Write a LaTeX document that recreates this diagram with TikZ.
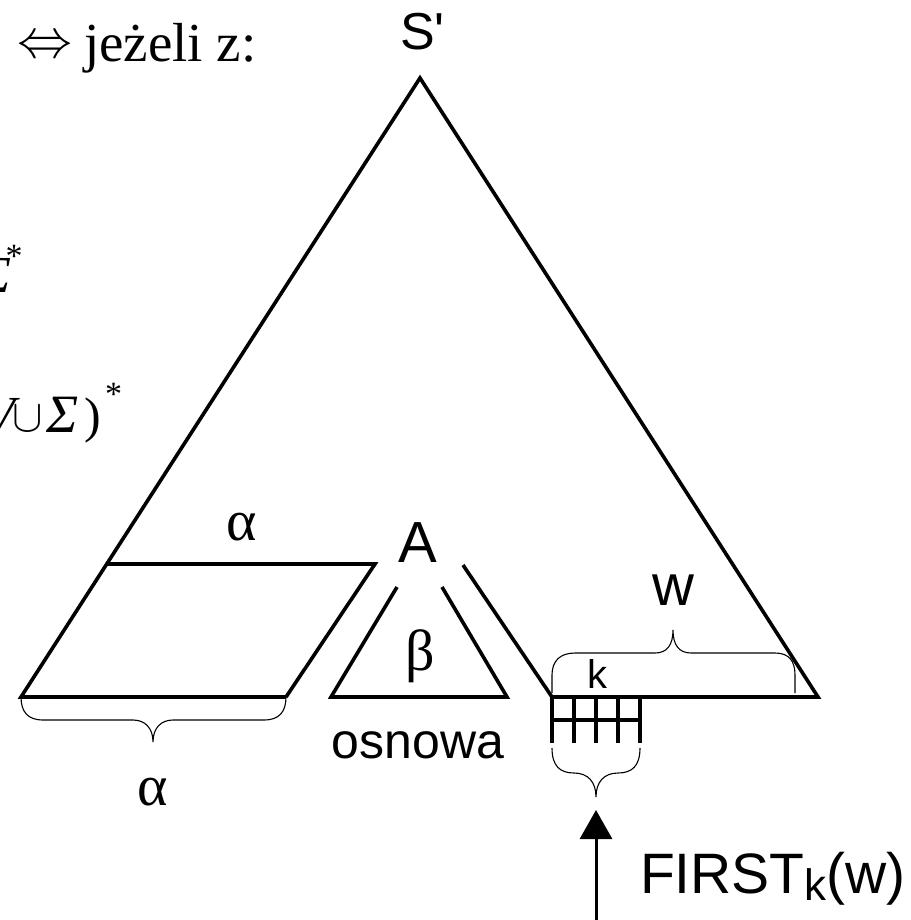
\documentclass[tikz,border=0pt]{standalone}
\usepackage{fontspec}
\setmainfont{Liberation Serif}
\setsansfont{Liberation Sans}
\usetikzlibrary{arrows.meta}
\newcommand\fsz[1]{\fontsize{#1}{#1}\selectfont}
\tikzset{
  thickline/.style={line width=3.6pt, line join=miter},
  braceline/.style={line width=1.1pt},
  lbl/.style={inner sep=0pt, outer sep=0pt},
  sanslbl/.style={lbl, font=\sffamily},
  seriflbl/.style={lbl, font=\rmfamily},
}
\begin{document}
\begin{tikzpicture}[x=1pt,y=-1pt]
\useasboundingbox (0,0) rectangle (910,920);
\clip (0,0) rectangle (910,920);
% main triangle
\coordinate (T) at (420,78);
\coordinate (L) at (21,697);
\coordinate (R) at (818,697);
% parallelogram
\coordinate (P1) at (107,564);
\coordinate (P2) at (375,564);
\coordinate (P3) at (286,697);
% beta triangle
\coordinate (B1) at (397,587);
\coordinate (B2) at (331,697);
\coordinate (B3) at (507,697);
\coordinate (B4) at (442,587);
% right subtree line
\coordinate (Q1) at (463,565);
\coordinate (Q2) at (552,697);
\draw[thickline] (P3) -- (L) -- (T) -- (R) -- (Q2) -- (Q1);
\draw[thickline] (P1) -- (P2) -- (P3);
\draw[thickline] (B1) -- (B2) -- (B3) -- (B4);
% grid
\foreach \i/\x in {0/552,1/574,2/596,3/618,4/640}{
  \coordinate (Gt\i) at (\x,697);
  \coordinate (Gb\i) at (\x,743);
  \draw[thickline] (Gt\i) -- (Gb\i);
}
\coordinate (Gm0) at (552,720);
\coordinate (Gm4) at (640,720);
\draw[thickline] (Gm0) -- (Gm4);
% braces
\coordinate (BA1) at (21,697);
\coordinate (BA2) at (286,697);
\coordinate (BAt) at (153,742);
\draw[braceline] (BA1) .. controls (21,712) and (28,720) .. (43,720) -- (133,720)
  .. controls (145,720) and (153,728) .. (BAt)
  .. controls (153,728) and (161,720) .. (173,720) -- (264,720)
  .. controls (279,720) and (286,712) .. (BA2);
\coordinate (BW1) at (552,693);
\coordinate (BW2) at (795,693);
\coordinate (BWt) at (673,630);
\draw[braceline] (BW1) -- (552,675) .. controls (552,661) and (560,653) .. (575,653) -- (655,653)
  .. controls (667,653) and (673,645) .. (BWt)
  .. controls (673,645) and (679,653) .. (691,653) -- (775,653)
  .. controls (789,653) and (795,661) .. (795,675) -- (BW2);
\coordinate (BK1) at (552,748);
\coordinate (BK2) at (640,748);
\coordinate (BKt) at (596,797);
\draw[braceline] (BK1) .. controls (552,766) and (560,773) .. (574,773)
  .. controls (588,773) and (596,782) .. (BKt)
  .. controls (596,782) and (604,773) .. (618,773)
  .. controls (632,773) and (640,766) .. (BK2);
% arrow
\coordinate (AB) at (596,925);
\coordinate (AT) at (596,810);
\draw[line width=3pt, -{Triangle[width=32pt,length=29pt]}] (AB) -- (AT);
% labels
\node[sanslbl, anchor=base west, font=\sffamily\fsz{52}] (Sp) at (400,50) {S\textquotesingle};
\node[seriflbl, anchor=base, font=\rmfamily\fsz{58}] (alphaT) at (242,540) {α};
\node[sanslbl, anchor=base, font=\sffamily\fsz{58}] (A) at (418,562) {A};
\node[seriflbl, anchor=base, font=\rmfamily\fsz{58}] (beta) at (420,670) {β};
\node[sanslbl, anchor=base, font=\sffamily\fsz{58}] (w) at (673,605) {w};
\node[sanslbl, anchor=base, font=\sffamily\fsz{40}] (k) at (597,688) {k};
\node[sanslbl, anchor=base, font=\sffamily\fsz{50}] (osn) at (418,758) {osnowa};
\node[seriflbl, anchor=base, font=\rmfamily\fsz{58}] (alphaB) at (153,805) {α};
\node[sanslbl, anchor=base west, font=\sffamily\fsz{57}] (first) at (640,893)
  {FIRST\raisebox{-7pt}{\fsz{44}k}(w)};
% left-hand text (cut by the page edge, as in the reference)
\node[lbl, font=\fsz{10}] (iff) at (44.5,47) {\scalebox{5.5}{$\Leftrightarrow$}};
\node[seriflbl, anchor=base west, font=\rmfamily\fsz{55}] (jez) at (84,62) {jeżeli z:};
\node[seriflbl, anchor=base east, font=\rmfamily\itshape\fsz{52}] (sigA) at (11,292) {Σ};
\node[seriflbl, font=\rmfamily\fsz{34}] (starA) at (14,256) {*};
\node[seriflbl, anchor=base east, font=\rmfamily\itshape\fsz{52}] (vee) at (15,432) {V};
\node[lbl] (cup) at (27.5,419) {\scalebox{2.2}{\fsz{20}$\cup$}};
\node[seriflbl, anchor=base west, font=\rmfamily\itshape\fsz{54}] (sigB) at (46,432) {Σ};
\node[seriflbl, anchor=base east, font=\rmfamily\fsz{50}] (rpar) at (101,432) {)};
\node[seriflbl, font=\rmfamily\fsz{34}] (starB) at (113.5,394) {*};
\end{tikzpicture}
\end{document}
